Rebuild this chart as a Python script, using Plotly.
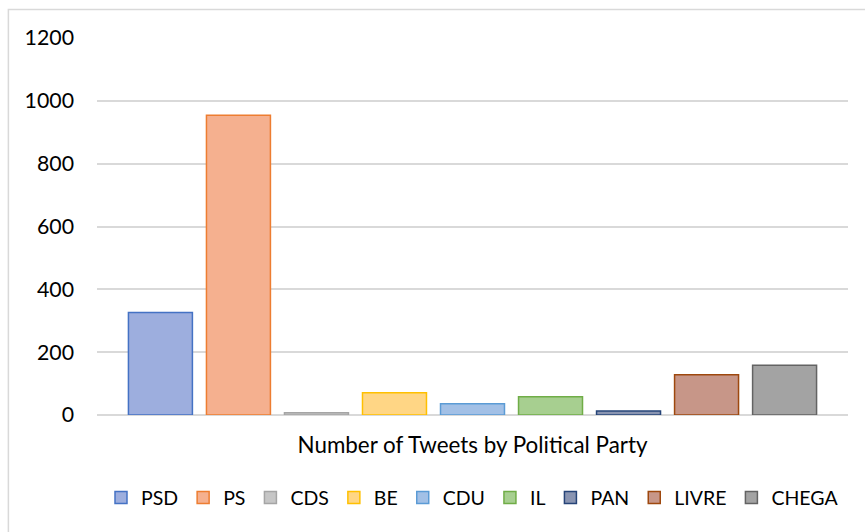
import plotly.graph_objects as go

# Tweet counts per party (single category)
category = ["Number of Tweets by Political Party"]
parties = ["PSD", "PS", "CDS", "BE", "CDU", "IL", "PAN", "LIVRE", "CHEGA"]
tweets = [326, 954, 7, 71, 36, 58, 13, 128, 158]

# Office-style palette: outline colours and softened fills
edge_colors = ["#4472C4", "#ED7D31", "#A5A5A5", "#FFC000", "#5B9BD5",
               "#70AD47", "#264478", "#9E480E", "#636363"]
fill_colors = ["#9DAEDE", "#F5B08F", "#C6C6C6", "#FFD685", "#A2C0E6",
               "#A7CF90", "#8994B1", "#C79688", "#A3A3A3"]

y_ticks = [0, 200, 400, 600, 800, 1000, 1200]

FONT = "Lato"
TEXT_COLOR = "#000000"
GRID = "#D9D9D9"

fig = go.Figure()
for name, val, edge, fill in zip(parties, tweets, edge_colors, fill_colors):
    fig.add_trace(go.Bar(
        name=name,
        x=category,
        y=[val],
        marker=dict(color=fill, line=dict(color=edge, width=1.5)),
    ))

fig.update_layout(
    width=865,
    height=532,
    barmode="group",
    bargap=0.065,
    bargroupgap=0.18,
    plot_bgcolor="white",
    paper_bgcolor="white",
    margin=dict(l=97, r=17, t=38, b=117),
    font=dict(family=FONT, size=20, color=TEXT_COLOR),
    showlegend=True,
    legend=dict(
        orientation="h",
        x=0.5, xanchor="center",
        y=-0.22, yanchor="middle",
        font=dict(family=FONT, size=19.5, color=TEXT_COLOR),
        itemclick=False,
        traceorder="normal",
    ),
    xaxis=dict(
        showgrid=False,
        showline=False,
        ticks="",
        ticklabelstandoff=15,
        tickfont=dict(family=FONT, size=22.4, color=TEXT_COLOR),
    ),
    yaxis=dict(
        range=[0, 1200],
        tickvals=y_ticks,
        showgrid=True,
        gridcolor=GRID,
        gridwidth=1.5,
        zeroline=True,
        zerolinecolor=GRID,
        zerolinewidth=1.5,
        showline=False,
        ticks="",
        ticklabelstandoff=22,
        tickfont=dict(family=FONT, size=21.3, color=TEXT_COLOR),
    ),
    shapes=[
        # light chart-area frame (runs off the right and bottom edges)
        dict(type="rect", xref="paper", yref="paper",
             x0=-0.118, x1=1.03, y0=-0.35, y1=1.0755,
             line=dict(color=GRID, width=1.5), fillcolor="rgba(0,0,0,0)",
             layer="below"),
    ],
)

fig.write_html("out.html")
